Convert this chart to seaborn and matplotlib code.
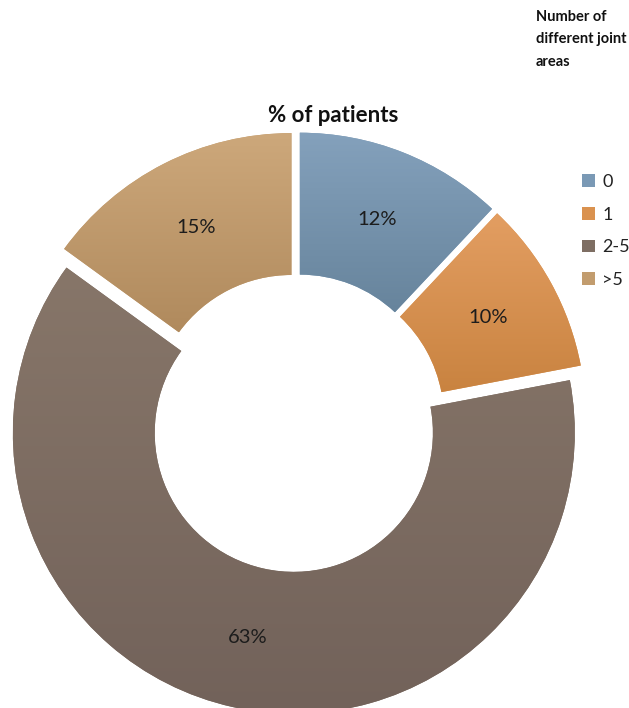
import numpy as np
import matplotlib
matplotlib.use("Agg")
import matplotlib.pyplot as plt
import seaborn as sns
from matplotlib.colors import LinearSegmentedColormap

# Share of patients by number of different joint areas involved
categories = ["0", "1", "2-5", ">5"]
shares = [12, 10, 63, 15]

# Slice fills: light at the top of each slice, darker towards the bottom
top_colors = ["#84A1BC", "#E39E62", "#877669", "#CDA87B"]
bottom_colors = ["#67849C", "#C98340", "#72625A", "#B08A5D"]
base_colors = ["#7A99B5", "#DA924F", "#7E6E63", "#C29C6E"]

sns.set_theme(style="white")
plt.rcParams["font.family"] = ["Lato", "DejaVu Sans"]

W, H = 629, 708
fig = plt.figure(figsize=(W / 100, H / 100), dpi=100)
ax = fig.add_axes([0, 0, 1, 1])

cx, cy = 296, H - 423
R = 281
wedges, _, autotexts = ax.pie(
    shares,
    colors=base_colors,
    startangle=90,
    counterclock=False,
    center=(cx, cy),
    radius=R,
    explode=[10] * len(shares),
    autopct=lambda p: f"{p:.0f}%",
    pctdistance=0.745,
    wedgeprops=dict(width=R * 0.505, linewidth=0),
    textprops=dict(fontsize=14.5, color="#1c1c1c"),
)

# Vertical gradient inside every slice
grad = np.linspace(0, 1, 256).reshape(-1, 1)
for w, c_top, c_bot in zip(wedges, top_colors, bottom_colors):
    ext = w.get_path().get_extents()
    cmap = LinearSegmentedColormap.from_list("g", [c_top, c_bot])
    im = ax.imshow(grad, cmap=cmap, origin="upper", aspect="auto",
                   extent=(ext.x0, ext.x1, ext.y0, ext.y1), zorder=1.5,
                   interpolation="bilinear")
    im.set_clip_path(w)

for t in autotexts:
    t.set_zorder(4)

ax.set_xlim(0, W)
ax.set_ylim(0, H)
ax.set_aspect("equal")
ax.axis("off")

fig.text(333 / W, 1 - 116 / H, "% of patients", ha="center", va="center",
         fontsize=16, fontweight="bold", color="#111111")

fig.text(536 / W, 1 - 10 / H, "Number of\ndifferent joint\nareas", ha="left", va="top",
         fontsize=10.5, fontweight="bold", color="#111111", linespacing=1.75)

ax.legend(wedges, categories, loc="upper left",
          bbox_to_anchor=(573 / W, 1 - 165 / H), bbox_transform=fig.transFigure,
          frameon=False, fontsize=13, handlelength=0.72, handleheight=0.72,
          handletextpad=0.4, labelspacing=0.92, borderpad=0, labelcolor="#222222")

fig.savefig("out.png", dpi=100, facecolor="white")
